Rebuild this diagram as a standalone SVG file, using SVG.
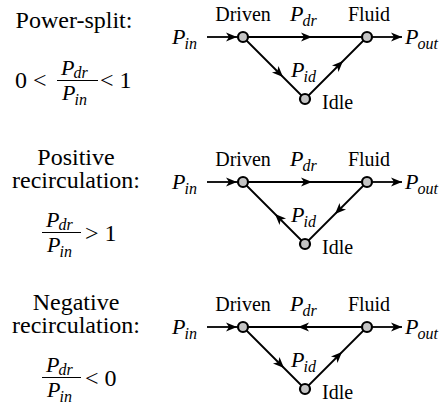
<svg xmlns="http://www.w3.org/2000/svg" width="448" height="404" viewBox="0 0 448 404">
<style>
.t{font-family:'Liberation Serif','Times New Roman',serif;fill:#000}
.big{font-size:24px}
.lab{font-size:20px}
.m{font-family:'Liberation Serif','Times New Roman',serif;font-style:italic;font-size:22px;fill:#000}
.s{font-size:16px}
.e{fill:none;stroke:#000;stroke-width:1.8}
.n{fill:#c4c4c4;stroke:#000;stroke-width:2.2}
.bar{stroke:#000;stroke-width:1.2}
</style>
<defs>
<marker id="ah" markerUnits="userSpaceOnUse" markerWidth="14" markerHeight="12" viewBox="-12 -6 14 12" refX="0" refY="0" orient="auto">
<path d="M0,0 L-11,-4.6 L-8,0 L-11,4.6 Z" fill="#000"/>
</marker>
</defs>
<rect width="448" height="404" fill="#fff"/>

<g id="panel1">
<g id="p1-condition">
<text class="t big" x="74" y="28" text-anchor="middle">Power-split:</text>
<text class="t big" x="15" y="88">0 &lt;</text>
<text class="m" x="61" y="75">P<tspan class="s" dx="-1" dy="3">dr</tspan></text>
<line class="bar" x1="57" y1="80.5" x2="98" y2="80.5"/>
<text class="m" x="62" y="100">P<tspan class="s" dx="-1" dy="5">in</tspan></text>
<text class="t big" x="100" y="88">&lt; 1</text>
</g>
<g id="p1-connectors">
<path class="e" d="M207,37 L237,37" marker-end="url(#ah)"/>
<path class="e" d="M373,37 L402,37" marker-end="url(#ah)"/>
<path class="e" d="M243,37 L312,37 L367,37" marker-mid="url(#ah)"/>
<path class="e" d="M243,37 L283,77 L305,99" marker-mid="url(#ah)"/>
<path class="e" d="M305,99 L343,61 L367,37" marker-mid="url(#ah)"/>
</g>
<g id="p1-in"><text class="m" x="172" y="44">P<tspan class="s" dx="-1" dy="5">in</tspan></text></g>
<g id="p1-driven"><circle class="n" cx="243" cy="37" r="5"/><text class="t lab" x="243" y="21" text-anchor="middle">Driven</text></g>
<g id="p1-fluid"><circle class="n" cx="367" cy="37" r="5"/><text class="t lab" x="369" y="21" text-anchor="middle">Fluid</text></g>
<g id="p1-idle"><circle class="n" cx="305" cy="99" r="5"/><text class="t lab" x="322" y="109">Idle</text></g>
<g id="p1-out"><text class="m" x="405" y="44">P<tspan class="s" dx="-1" dy="5">out</tspan></text></g>
<text class="m" x="290" y="21">P<tspan class="s" dx="-1" dy="5">dr</tspan></text>
<text class="m" x="291" y="77">P<tspan class="s" dx="-1" dy="5">id</tspan></text>
</g>

<g id="panel2">
<g id="p2-condition">
<text class="t big" x="76" y="165" text-anchor="middle">Positive</text>
<text class="t big" x="76" y="188" text-anchor="middle">recirculation:</text>
<text class="m" x="46" y="227">P<tspan class="s" dx="-1" dy="3">dr</tspan></text>
<line class="bar" x1="42" y1="232.5" x2="81" y2="232.5"/>
<text class="m" x="47" y="252">P<tspan class="s" dx="-1" dy="5">in</tspan></text>
<text class="t big" x="85" y="241">&gt; 1</text>
</g>
<g id="p2-connectors">
<path class="e" d="M207,182 L237,182" marker-end="url(#ah)"/>
<path class="e" d="M373,182 L402,182" marker-end="url(#ah)"/>
<path class="e" d="M243,182 L312,182 L367,182" marker-mid="url(#ah)"/>
<path class="e" d="M305,244 L275,214 L243,182" marker-mid="url(#ah)"/>
<path class="e" d="M367,182 L335,214 L305,244" marker-mid="url(#ah)"/>
</g>
<g id="p2-in"><text class="m" x="172" y="189">P<tspan class="s" dx="-1" dy="5">in</tspan></text></g>
<g id="p2-driven"><circle class="n" cx="243" cy="182" r="5"/><text class="t lab" x="243" y="166" text-anchor="middle">Driven</text></g>
<g id="p2-fluid"><circle class="n" cx="367" cy="182" r="5"/><text class="t lab" x="369" y="166" text-anchor="middle">Fluid</text></g>
<g id="p2-idle"><circle class="n" cx="305" cy="244" r="5"/><text class="t lab" x="322" y="254">Idle</text></g>
<g id="p2-out"><text class="m" x="405" y="189">P<tspan class="s" dx="-1" dy="5">out</tspan></text></g>
<text class="m" x="290" y="166">P<tspan class="s" dx="-1" dy="5">dr</tspan></text>
<text class="m" x="291" y="222">P<tspan class="s" dx="-1" dy="5">id</tspan></text>
</g>

<g id="panel3">
<g id="p3-condition">
<text class="t big" x="76" y="310" text-anchor="middle">Negative</text>
<text class="t big" x="76" y="333" text-anchor="middle">recirculation:</text>
<text class="m" x="46" y="372">P<tspan class="s" dx="-1" dy="3">dr</tspan></text>
<line class="bar" x1="42" y1="377.5" x2="81" y2="377.5"/>
<text class="m" x="47" y="397">P<tspan class="s" dx="-1" dy="5">in</tspan></text>
<text class="t big" x="85" y="386">&lt; 0</text>
</g>
<g id="p3-connectors">
<path class="e" d="M207,327 L237,327" marker-end="url(#ah)"/>
<path class="e" d="M373,327 L402,327" marker-end="url(#ah)"/>
<path class="e" d="M367,327 L298,327 L243,327" marker-mid="url(#ah)"/>
<path class="e" d="M243,327 L284,368 L305,389" marker-mid="url(#ah)"/>
<path class="e" d="M305,389 L342,352 L367,327" marker-mid="url(#ah)"/>
</g>
<g id="p3-in"><text class="m" x="172" y="334">P<tspan class="s" dx="-1" dy="5">in</tspan></text></g>
<g id="p3-driven"><circle class="n" cx="243" cy="327" r="5"/><text class="t lab" x="243" y="311" text-anchor="middle">Driven</text></g>
<g id="p3-fluid"><circle class="n" cx="367" cy="327" r="5"/><text class="t lab" x="369" y="311" text-anchor="middle">Fluid</text></g>
<g id="p3-idle"><circle class="n" cx="305" cy="389" r="5"/><text class="t lab" x="322" y="399">Idle</text></g>
<g id="p3-out"><text class="m" x="405" y="334">P<tspan class="s" dx="-1" dy="5">out</tspan></text></g>
<text class="m" x="290" y="311">P<tspan class="s" dx="-1" dy="5">dr</tspan></text>
<text class="m" x="291" y="367">P<tspan class="s" dx="-1" dy="5">id</tspan></text>
</g>
</svg>
